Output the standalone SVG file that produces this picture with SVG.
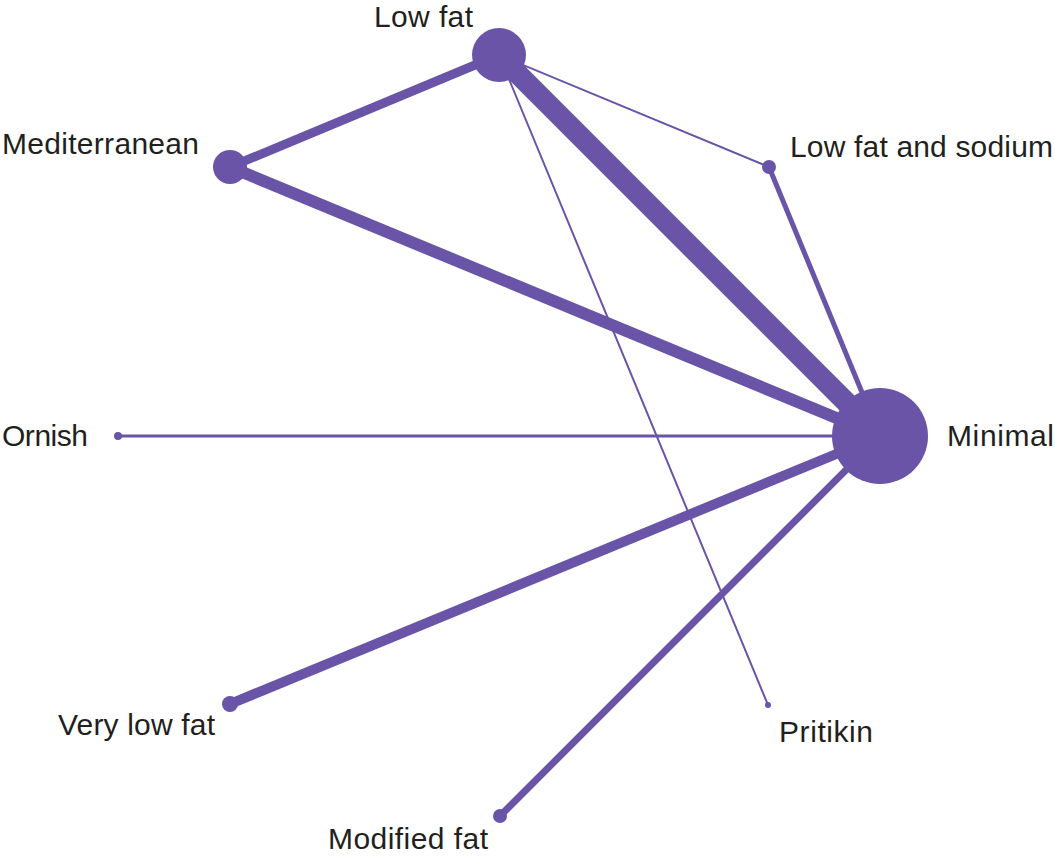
<svg xmlns="http://www.w3.org/2000/svg" width="1055" height="859" viewBox="0 0 1055 859">
<style>
.e{stroke:#6954a8;fill:none;stroke-linecap:butt}
.n{fill:#6954a8}
.t{font-family:"Liberation Sans",Arial,sans-serif;font-size:30px;fill:#231f20}
</style>
<rect width="1055" height="859" fill="#ffffff"/>
<g id="connectors">
<line class="e" x1="499" y1="55" x2="230" y2="167" stroke-width="9"/>
<line class="e" x1="499" y1="55" x2="880" y2="436" stroke-width="21"/>
<line class="e" x1="499" y1="55" x2="769" y2="167" stroke-width="2"/>
<line class="e" x1="499" y1="55" x2="768" y2="705" stroke-width="2"/>
<line class="e" x1="230" y1="167" x2="880" y2="436" stroke-width="12"/>
<line class="e" x1="769" y1="167" x2="880" y2="436" stroke-width="5"/>
<line class="e" x1="118" y1="436" x2="880" y2="436" stroke-width="3"/>
<line class="e" x1="230" y1="704" x2="880" y2="436" stroke-width="10"/>
<line class="e" x1="500" y1="816" x2="880" y2="436" stroke-width="7"/>
</g>
<g id="node-lowfat"><circle class="n" cx="499" cy="55" r="27"/><text class="t" x="374" y="27" textLength="99">Low fat</text></g>
<g id="node-mediterranean"><circle class="n" cx="230" cy="167" r="17"/><text class="t" x="2" y="154" textLength="197">Mediterranean</text></g>
<g id="node-lowfatsodium"><circle class="n" cx="769" cy="167" r="7"/><text class="t" x="790" y="157" textLength="263">Low fat and sodium</text></g>
<g id="node-minimal"><circle class="n" cx="880" cy="436" r="48"/><text class="t" x="947" y="446" textLength="107">Minimal</text></g>
<g id="node-ornish"><circle class="n" cx="118" cy="436" r="4"/><text class="t" x="2" y="446" textLength="86">Ornish</text></g>
<g id="node-verylowfat"><circle class="n" cx="230" cy="704" r="8"/><text class="t" x="58" y="735" textLength="157">Very low fat</text></g>
<g id="node-pritikin"><circle class="n" cx="768" cy="705" r="3"/><text class="t" x="779" y="742" textLength="94">Pritikin</text></g>
<g id="node-modifiedfat"><circle class="n" cx="500" cy="816" r="7"/><text class="t" x="328" y="849" textLength="160">Modified fat</text></g>
</svg>
